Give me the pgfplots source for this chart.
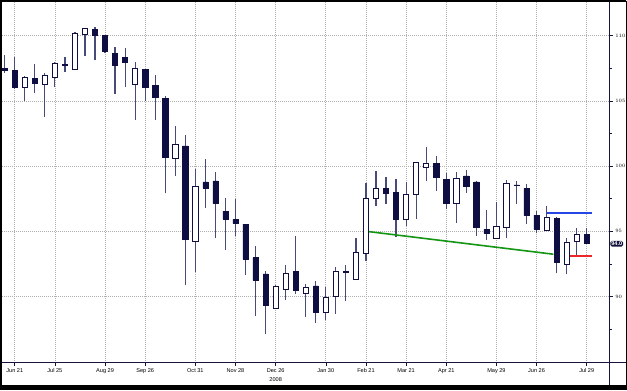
\documentclass[border=0pt]{standalone}
\usepackage{pgfplots}
\pgfplotsset{compat=1.18}
\usepackage{pgfplotstable}
\usepackage{fontspec}
\setmainfont{Liberation Sans}
\definecolor{candle}{RGB}{14,14,66}
\definecolor{wick}{RGB}{72,74,120}
\definecolor{gridc}{RGB}{175,175,175}
\definecolor{axisc}{RGB}{20,20,60}
\definecolor{lgreen}{RGB}{20,150,20}
\definecolor{lblue}{RGB}{40,70,230}
\definecolor{lred}{RGB}{235,40,40}

\pgfplotstableread{
i open high low close
0 107.50 108.55 107.15 107.35
1 107.35 108.40 105.95 106.07
2 106.02 106.89 105.00 106.79
3 106.71 107.80 105.64 106.33
4 106.25 107.14 103.77 106.94
5 106.79 107.98 106.07 107.86
6 107.80 108.36 107.21 107.75
7 107.42 110.25 107.40 110.15
8 110.08 110.61 108.42 110.54
9 110.46 110.66 108.11 110.02
10 110.02 110.08 108.70 108.80
11 108.67 109.13 105.51 107.73
12 108.32 109.05 106.07 107.98
13 106.25 107.98 103.57 107.48
14 107.40 107.45 105.00 106.02
15 106.20 106.96 103.57 105.30
16 105.18 105.36 97.91 100.71
17 100.59 103.08 99.23 101.66
18 101.55 102.37 90.87 94.39
19 94.21 99.75 91.91 98.42
20 98.80 100.54 96.76 98.29
21 98.88 99.52 94.47 97.15
22 96.56 97.57 93.57 95.94
23 95.92 97.48 94.64 95.59
24 95.56 95.60 91.66 92.88
25 92.98 93.90 88.55 91.28
26 91.74 91.99 87.15 89.31
27 89.11 90.92 89.05 90.82
28 90.57 92.43 89.75 91.79
29 91.91 94.64 90.18 90.46
30 90.21 90.95 88.47 90.69
31 90.82 91.22 88.01 88.78
32 88.78 90.77 88.22 89.95
33 90.00 92.30 88.68 91.97
34 91.95 92.43 89.69 91.90
35 91.33 94.47 91.30 93.37
36 93.32 98.68 92.75 97.53
37 97.53 99.64 96.94 98.29
38 98.29 99.18 97.09 97.96
39 97.99 98.98 94.59 95.94
40 95.94 98.80 95.43 97.83
41 97.83 100.33 95.94 100.28
42 99.90 101.43 98.88 100.25
43 100.21 100.77 98.11 99.18
44 98.98 99.44 96.69 97.15
45 97.15 99.56 95.66 99.10
46 99.26 99.69 97.96 98.49
47 98.80 98.85 94.64 95.28
48 95.16 96.63 94.34 94.85
49 94.47 97.27 94.45 95.36
50 95.28 98.93 94.47 98.68
51 98.57 98.88 97.09 98.52
52 98.29 98.60 95.56 96.25
53 96.25 96.56 94.85 95.18
54 95.10 96.94 95.08 96.04
55 96.00 96.08 91.79 92.60
56 92.48 94.47 91.71 94.16
57 94.26 95.28 93.11 94.77
58 94.77 95.23 94.05 94.09
}\ohlc

\pgfplotstableread{
x y
36.3 94.98
54.67 93.25
}\greenline
\pgfplotstableread{
x y
54.08 96.39
58.56 96.39
}\blueline
\pgfplotstableread{
x y
56.17 93.12
58.50 93.12
}\redline

\pgfplotsset{
  chartgeom/.style={
    at={(2bp,27.5bp)}, anchor=south west,
    scale only axis, width=607.5bp, height=360.5bp,
    xmin=-0.27, xmax=60.27, ymin=84.95, ymax=112.58,
  }
}

\begin{document}
\begin{tikzpicture}[x=1bp,y=1bp]
\useasboundingbox (0,0) rectangle (627,390);
\fill[white] (0,0) rectangle (627,390);
\begin{axis}[chartgeom,
  axis line style={draw=none},
  xtick={1,5,10,14,19,23,27,32,36,40,44,49,53,58},
  xticklabels={Jun 21,Jul 25,Aug 29,Sep 26,Oct 31,Nov 28,Dec 26,Jan 30,Feb 21,Mar 21,Apr 21,May 29,Jun 26,Jul 29},
  ytick={90,95,100,105,110},
  minor ytick={87.5,92.5,97.5,102.5,107.5},
  xtick pos=bottom, ytick pos=right, yticklabel pos=right,
  tick align=outside, major tick length=3bp, minor tick length=2bp,
  tick style={axisc, line width=0.6bp},
  xmajorgrids, ymajorgrids,
  grid style={gridc, line width=0.7bp, dash pattern=on 1bp off 1bp},
  xticklabel style={font=\fontsize{5.6}{6.5}\selectfont, inner sep=0pt, text=black, anchor=north, yshift=-2.8bp},
  yticklabel style={font=\fontsize{5.2}{6}\selectfont, inner sep=0pt, text=black, anchor=west, xshift=2.6bp},
]
\addplot[draw=none, mark=none, forget plot,
  error bars/.cd, y dir=plus, y explicit, error mark=none,
  error bar style={wick, line width=1.2bp}]
  table[x=i, y=low, y error expr=\thisrow{high}-\thisrow{low}] {\ohlc};
\addplot[lgreen, line width=1.6bp, mark=none] table {\greenline};
\addplot[lblue, line width=1.6bp, mark=none] table {\blueline};
\addplot[lred, line width=1.6bp, mark=none] table {\redline};
\coordinate (lastv) at (axis cs:60.27,94.05);
\coordinate (yr) at (axis cs:27,84.95);
\end{axis}
\begin{axis}[chartgeom, hide axis, ybar stacked, bar width=0.52]
\addplot[draw=none, fill=none] table[x=i, y expr={min(\thisrow{open},\thisrow{close})}] {\ohlc};
\addplot[draw=candle, fill=candle, line width=0.5bp] table[x=i, y expr={max(\thisrow{open}-\thisrow{close},0)}] {\ohlc};
\addplot[draw=candle, fill=white, line width=0.75bp] table[x=i, y expr={max(\thisrow{close}-\thisrow{open},0)}] {\ohlc};
\end{axis}
% frame
\draw[axisc, line width=1.3bp] (0,27.5) -- (627,27.5);
\draw[axisc, line width=0.8bp] (609.5,0) -- (609.5,390);
\fill[black] (0,0) rectangle (627,5.5);
\draw[black, line width=1.6bp] (0.8,0.8) -- (0.8,389.2) -- (626.2,389.2);
\draw[black, line width=0.8bp] (626.6,389.2) -- (626.6,0.8);
\node[font=\fontsize{5.6}{6.5}\selectfont, inner sep=0pt] at ([yshift=-17.3bp]yr) {2008};
\node[anchor=west, fill=axisc, text=white, rounded corners=1.8bp, inner sep=1bp,
  font=\fontsize{5.6}{6.5}\selectfont\bfseries] at ([xshift=0.6bp]lastv) {94.0};
\end{tikzpicture}
\end{document}
